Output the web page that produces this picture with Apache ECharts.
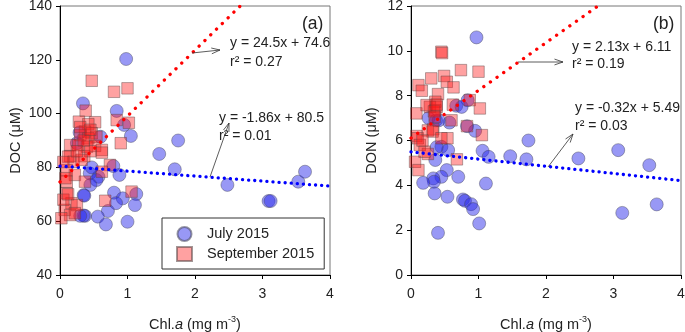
<!DOCTYPE html>
<html lang="en">
<head>
<meta charset="UTF-8">
<title>DOC / DON vs Chl.a</title>
<script src="https://cdn.jsdelivr.net/npm/echarts@6/dist/echarts.min.js"></script>
<style>
  html, body { margin: 0; padding: 0; background: #fff; }
  #chart { width: 685px; height: 332px; }
</style>
</head>
<body>
<div id="chart"></div>
<script>
// ---- data ----
var xTicks = [0, 1, 2, 3, 4];
var docTicks = [40, 60, 80, 100, 120, 140];
var donTicks = [0, 2, 4, 6, 8, 10, 12];

// (a) DOC, July 2015
var docJuly = [
  [0.98,120.3],[0.34,103.8],[0.84,101.0],[0.95,95.8],[1.05,91.7],[1.75,90.0],
  [0.29,93.0],[0.60,91.4],[0.25,89.0],[1.47,85.0],[1.70,79.3],[0.79,80.5],
  [0.88,77.2],[0.44,77.8],[0.57,76.5],[0.54,75.3],[0.45,73.5],[0.35,69.7],
  [0.36,69.5],[0.80,70.6],[1.13,70.1],[0.93,68.5],[0.83,66.7],[1.11,66.0],
  [0.71,63.8],[0.37,62.0],[0.35,62.1],[0.56,61.7],[0.68,58.8],[1.00,59.8],
  [0.47,80.0],[2.48,73.5],[3.09,67.5],[3.12,67.5],[3.53,74.7],[3.63,78.4],
  [0.30,62.0]
];
// (a) DOC, September 2015
var docSept = [
  [0.47,112.2],[0.80,108.1],[1.00,109.4],[0.38,101.1],[0.28,97.0],[0.52,96.8],
  [0.84,97.6],[1.02,96.6],[0.42,96.1],[0.37,93.3],[0.47,92.7],[0.30,92.0],
  [0.54,91.4],[0.42,90.8],[0.15,88.3],[0.27,88.3],[0.40,87.7],[0.52,88.0],
  [0.62,86.5],[0.90,89.0],[0.15,84.2],[0.36,84.2],[0.45,86.0],[0.12,84.0],
  [0.20,82.1],[0.32,82.8],[0.62,85.5],[0.74,80.9],[0.62,78.4],[0.10,79.0],
  [0.22,77.2],[0.10,74.7],[0.37,74.7],[0.10,70.4],[0.17,66.7],[0.07,64.2],
  [0.15,62.3],[0.02,61.1],[1.06,71.0],[0.67,67.6],[0.25,66.0],[0.22,63.0],
  [0.35,90.0],[0.25,86.0],[0.05,82.0],[0.08,76.0],[0.05,68.0],[0.12,70.0],
  [0.30,95.0],[0.45,94.0]
];
// (b) DON, July 2015
var donJuly = [
  [0.97,10.6],[0.84,7.8],[0.67,7.55],[0.26,7.0],[0.37,6.9],[0.57,6.8],
  [0.83,6.64],[0.95,6.43],[1.74,6.0],[1.06,5.54],[1.15,5.27],[1.47,5.3],
  [1.71,5.16],[0.45,5.72],[0.55,5.57],[0.36,5.13],[0.53,4.68],[0.45,4.38],
  [0.33,4.31],[0.34,4.16],[0.18,4.11],[0.70,4.38],[1.11,4.08],[0.35,3.64],
  [0.54,3.49],[0.77,3.37],[0.80,3.31],[0.89,3.16],[0.92,2.94],[1.01,2.3],
  [0.40,1.88],[2.48,5.2],[3.07,5.57],[3.53,4.9],[3.13,2.77],[3.64,3.15],
  [0.75,7.5],[0.41,6.9],[0.38,5.7]
];
// (b) DON, September 2015
var donSept = [
  [0.45,9.96],[0.46,9.9],[0.30,8.77],[0.49,8.88],[0.74,9.14],[1.00,9.07],
  [0.53,8.62],[0.63,8.37],[0.11,8.47],[0.16,8.22],[0.40,8.07],[0.36,7.73],
  [0.87,7.8],[1.02,7.43],[0.62,7.6],[0.08,7.21],[0.28,7.5],[0.36,7.35],
  [0.83,6.64],[1.05,6.24],[0.33,6.5],[0.08,6.2],[0.10,6.1],[0.13,5.8],
  [0.25,5.4],[0.06,5.05],[0.11,4.68],[0.68,5.16],[0.54,6.1],[0.23,7.58],
  [0.38,7.5],[0.34,7.3],[0.35,7.05],[0.60,6.9],[0.25,6.45],[0.32,6.4],
  [0.45,6.1],[0.20,5.5],[0.17,6.0],[0.38,7.6]
];

// regression line end points
var docJulyFit = [[0, 80.5], [4, 73.06]];
var docSeptFit = [[0, 74.6], [2.67, 140]];
var donJulyFit = [[0, 5.49], [4, 4.21]];
var donSeptFit = [[0, 6.11], [2.77, 12]];

// ---- chart ----
var FONT = 'Liberation Sans, Arial, sans-serif';
var TXT = '#222';

var blueDot = { color: 'rgba(40,40,235,0.6)', borderColor: 'rgba(70,70,90,0.7)', borderWidth: 0.8 };
var redSq = { color: 'rgba(255,20,20,0.5)', borderColor: 'rgba(90,70,70,0.7)', borderWidth: 0.8 };

function xAxisFor(gi) {
  return {
    gridIndex: gi, type: 'value', min: 0, max: 4, interval: 1,
    name: '{n|Chl.}{i|a}{n| (mg m}{s|-3}{n|)}',
    nameLocation: 'middle', nameGap: 40,
    nameTextStyle: {
      rich: {
        n: { fontSize: 14.5, color: TXT, fontFamily: FONT },
        i: { fontSize: 14.5, color: TXT, fontFamily: FONT, fontStyle: 'italic' },
        s: { fontSize: 9, color: TXT, fontFamily: FONT, verticalAlign: 'bottom', padding: [0, 0, 10, 0] }
      }
    },
    axisLine: { onZero: false, lineStyle: { color: '#000', width: 1 } },
    axisTick: { inside: false, length: 4, lineStyle: { color: '#000' } },
    axisLabel: { margin: 12, fontSize: 14, color: TXT, fontFamily: FONT },
    splitLine: { show: false }
  };
}
function yAxisFor(gi, ticks, name, gap) {
  return {
    gridIndex: gi, type: 'value', min: ticks[0], max: ticks[ticks.length - 1],
    interval: ticks[1] - ticks[0],
    name: name, nameLocation: 'middle', nameGap: gap,
    nameTextStyle: { fontSize: 14.5, color: TXT, fontFamily: FONT },
    axisLine: { onZero: false, lineStyle: { color: '#000', width: 1 } },
    axisTick: { inside: false, length: 4, lineStyle: { color: '#000' } },
    axisLabel: { margin: 8, fontSize: 14, color: TXT, fontFamily: FONT },
    splitLine: { show: false }
  };
}
function scatter(name, gi, data, symbol, size, style) {
  return {
    name: name, type: 'scatter', xAxisIndex: gi, yAxisIndex: gi,
    symbol: symbol, symbolSize: size, data: data, itemStyle: style, z: 2, silent: true
  };
}
function fitLine(gi, data, color, gap) {
  return {
    type: 'line', xAxisIndex: gi, yAxisIndex: gi, data: data, symbol: 'none', z: 5,
    silent: true,
    lineStyle: { color: color, width: 3.3, type: [0.1, gap], cap: 'round' }
  };
}
function arrow(x1, y1, x2, y2) {
  var a = Math.atan2(y2 - y1, x2 - x1), L = 9, s = 0.33;
  return [
    { type: 'line', shape: { x1: x1, y1: y1, x2: x2, y2: y2 }, style: { stroke: '#333', lineWidth: 0.8 }, z: 10 },
    { type: 'polyline', z: 10,
      shape: { points: [[x2 - L * Math.cos(a - s), y2 - L * Math.sin(a - s)], [x2, y2],
                        [x2 - L * Math.cos(a + s), y2 - L * Math.sin(a + s)]] },
      style: { stroke: '#333', fill: null, lineWidth: 0.8 } }
  ];
}
function label(text, x, y, size) {
  return { type: 'text', x: x, y: y, z: 10,
    style: { text: text, fill: TXT, fontSize: size || 14, fontFamily: FONT, verticalAlign: 'middle' } };
}

var graphics = [].concat(
  label('(a)', 302, 24, 17.5), label('(b)', 653, 24, 17.5),
  label('y = 24.5x + 74.6', 230, 43), label('r² = 0.27', 230, 62),
  label('y = -1.86x + 80.5', 219, 118), label('r² = 0.01', 219, 136),
  label('y = 2.13x + 6.11', 572, 47), label('r² = 0.19', 572, 64),
  label('y = -0.32x + 5.49', 575, 108), label('r² = 0.03', 575, 126),
  arrow(192, 53, 220, 50), arrow(210, 177, 229, 123),
  arrow(518, 62, 563, 62), arrow(548, 167, 573, 134)
);

var gridBase = { top: 6, width: 270, height: 269, show: true, borderColor: '#777', borderWidth: 1,
                 backgroundColor: 'transparent', outerBoundsMode: 'none', containLabel: false };

var chart = echarts.init(document.getElementById('chart'), null, { renderer: 'canvas' });
chart.setOption({
  animation: false,
  backgroundColor: '#fff',
  textStyle: { fontFamily: FONT },
  grid: [
    Object.assign({ left: 60 }, gridBase),
    Object.assign({ left: 411 }, gridBase)
  ],
  xAxis: [xAxisFor(0), xAxisFor(1)],
  yAxis: [yAxisFor(0, docTicks, 'DOC (μM)', 37), yAxisFor(1, donTicks, 'DON (μM)', 32)],
  legend: {
    left: 162, top: 218, orient: 'vertical',
    backgroundColor: '#fff', borderColor: '#333', borderWidth: 1, borderRadius: 0,
    padding: [8, 10, 7, 14], itemGap: 4, itemWidth: 15, itemHeight: 14,
    textStyle: { fontSize: 14.5, color: TXT, fontFamily: FONT, padding: [0, 0, 0, 10] },
    data: [{ name: 'July 2015', icon: 'circle' }, { name: 'September 2015', icon: 'rect' }],
    selectedMode: false, z: 8
  },
  series: [
    scatter('July 2015', 0, docJuly, 'circle', 13, blueDot),
    scatter('September 2015', 0, docSept, 'rect', 11.5, redSq),
    scatter('July 2015', 1, donJuly, 'circle', 13, blueDot),
    scatter('September 2015', 1, donSept, 'rect', 11.5, redSq),
    fitLine(0, docJulyFit, '#0000ff', 6),
    fitLine(0, docSeptFit, '#ff0000', 8),
    fitLine(1, donJulyFit, '#0000ff', 6),
    fitLine(1, donSeptFit, '#ff0000', 8)
  ],
  graphic: graphics
});
</script>
</body>
</html>
